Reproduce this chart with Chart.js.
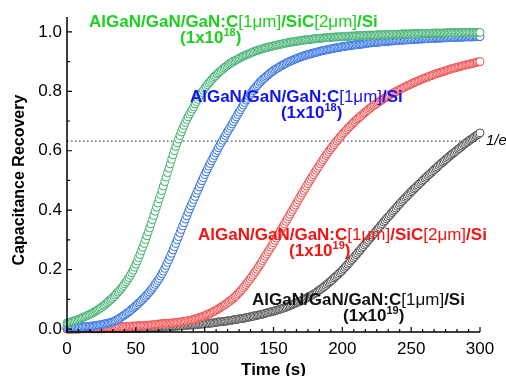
<!DOCTYPE html>
<html>
<head>
<meta charset="utf-8">
<script src="https://cdn.jsdelivr.net/npm/chart.js@4.4.0/dist/chart.umd.min.js"></script>
<style>
    html, body { margin: 0; padding: 0; background: #fff; }
    #wrap { width: 506px; height: 376px; }
</style>
</head>
<body>
<div id="wrap"><canvas id="recoveryChart" width="506" height="376"></canvas></div>
<script>
// temps (s)
const times = [
    0, 1, 2, 3, 4, 5, 6, 7, 8, 9, 10, 11, 12, 13, 14, 15, 16, 17, 18, 19,
    20, 21, 22, 23, 24, 25, 26, 27, 28, 29, 30, 31, 32, 33, 34, 35, 36, 37, 38, 39,
    40, 41, 42, 43, 44, 45, 46, 47, 48, 49, 50, 51, 52, 53, 54, 55, 56, 57, 58, 59,
    60, 61, 62, 63, 64, 65, 66, 67, 68, 69, 70, 71, 72, 73, 74, 75, 76, 77, 78, 79,
    80, 81, 82, 83, 84, 85, 86, 87, 88, 89, 90, 91, 92, 93, 94, 95, 96, 97, 98, 99,
    100, 101, 102, 103, 104, 105, 106, 107, 108, 109, 110, 111, 112, 113, 114, 115, 116, 117, 118, 119,
    120, 121, 122, 123, 124, 125, 126, 127, 128, 129, 130, 131, 132, 133, 134, 135, 136, 137, 138, 139,
    140, 141, 142, 143, 144, 145, 146, 147, 148, 149, 150, 151, 152, 153, 154, 155, 156, 157, 158, 159,
    160, 161, 162, 163, 164, 165, 166, 167, 168, 169, 170, 171, 172, 173, 174, 175, 176, 177, 178, 179,
    180, 181, 182, 183, 184, 185, 186, 187, 188, 189, 190, 191, 192, 193, 194, 195, 196, 197, 198, 199,
    200, 201, 202, 203, 204, 205, 206, 207, 208, 209, 210, 211, 212, 213, 214, 215, 216, 217, 218, 219,
    220, 221, 222, 223, 224, 225, 226, 227, 228, 229, 230, 231, 232, 233, 234, 235, 236, 237, 238, 239,
    240, 241, 242, 243, 244, 245, 246, 247, 248, 249, 250, 251, 252, 253, 254, 255, 256, 257, 258, 259,
    260, 261, 262, 263, 264, 265, 266, 267, 268, 269, 270, 271, 272, 273, 274, 275, 276, 277, 278, 279,
    280, 281, 282, 283, 284, 285, 286, 287, 288, 289, 290, 291, 292, 293, 294, 295, 296, 297, 298, 299,
    300
];

// GaN:C[1um]/SiC[2um]/Si, 1x10^18
const recSiC18 = [
    0.020, 0.021, 0.023, 0.024, 0.026, 0.027, 0.029, 0.030, 0.032, 0.034,
    0.036, 0.038, 0.040, 0.042, 0.044, 0.046, 0.048, 0.050, 0.053, 0.055,
    0.058, 0.061, 0.064, 0.067, 0.070, 0.073, 0.077, 0.080, 0.084, 0.088,
    0.092, 0.096, 0.100, 0.104, 0.109, 0.114, 0.119, 0.124, 0.129, 0.134,
    0.140, 0.146, 0.153, 0.159, 0.166, 0.173, 0.181, 0.189, 0.198, 0.208,
    0.218, 0.229, 0.240, 0.251, 0.263, 0.275, 0.288, 0.301, 0.314, 0.327,
    0.340, 0.354, 0.368, 0.382, 0.396, 0.410, 0.424, 0.438, 0.452, 0.466,
    0.481, 0.496, 0.511, 0.526, 0.541, 0.556, 0.571, 0.586, 0.600, 0.614,
    0.627, 0.639, 0.651, 0.663, 0.674, 0.685, 0.695, 0.705, 0.714, 0.723,
    0.731, 0.740, 0.748, 0.757, 0.765, 0.773, 0.781, 0.789, 0.796, 0.803,
    0.810, 0.816, 0.822, 0.828, 0.833, 0.839, 0.844, 0.849, 0.853, 0.858,
    0.862, 0.866, 0.870, 0.874, 0.878, 0.882, 0.885, 0.889, 0.892, 0.895,
    0.898, 0.901, 0.903, 0.906, 0.908, 0.911, 0.913, 0.916, 0.918, 0.920,
    0.922, 0.924, 0.926, 0.928, 0.930, 0.932, 0.934, 0.936, 0.937, 0.939,
    0.940, 0.942, 0.943, 0.945, 0.946, 0.947, 0.948, 0.950, 0.951, 0.952,
    0.953, 0.954, 0.955, 0.956, 0.957, 0.958, 0.959, 0.960, 0.961, 0.962,
    0.963, 0.964, 0.965, 0.966, 0.966, 0.967, 0.968, 0.969, 0.969, 0.970,
    0.971, 0.972, 0.972, 0.973, 0.973, 0.974, 0.974, 0.975, 0.976, 0.976,
    0.977, 0.977, 0.978, 0.978, 0.979, 0.979, 0.979, 0.980, 0.980, 0.981,
    0.981, 0.981, 0.982, 0.982, 0.982, 0.983, 0.983, 0.983, 0.983, 0.984,
    0.984, 0.984, 0.985, 0.985, 0.985, 0.985, 0.986, 0.986, 0.986, 0.986,
    0.987, 0.987, 0.987, 0.987, 0.988, 0.988, 0.988, 0.988, 0.988, 0.989,
    0.989, 0.989, 0.989, 0.989, 0.989, 0.990, 0.990, 0.990, 0.990, 0.990,
    0.990, 0.991, 0.991, 0.991, 0.991, 0.991, 0.991, 0.992, 0.992, 0.992,
    0.992, 0.992, 0.992, 0.993, 0.993, 0.993, 0.993, 0.993, 0.993, 0.993,
    0.993, 0.994, 0.994, 0.994, 0.994, 0.994, 0.994, 0.994, 0.995, 0.995,
    0.995, 0.995, 0.995, 0.995, 0.995, 0.995, 0.996, 0.996, 0.996, 0.996,
    0.996, 0.996, 0.996, 0.996, 0.996, 0.996, 0.997, 0.997, 0.997, 0.997,
    0.997, 0.997, 0.997, 0.997, 0.997, 0.997, 0.997, 0.997, 0.998, 0.998,
    0.998, 0.998, 0.998, 0.998, 0.998, 0.998, 0.998, 0.998, 0.998, 0.998,
    0.998
];

// GaN:C[1um]/Si, 1x10^18
const recSi18 = [
    0.005, 0.005, 0.005, 0.005, 0.006, 0.006, 0.006, 0.006, 0.007, 0.007,
    0.007, 0.007, 0.008, 0.008, 0.009, 0.009, 0.009, 0.010, 0.010, 0.010,
    0.011, 0.012, 0.013, 0.013, 0.014, 0.015, 0.016, 0.017, 0.018, 0.019,
    0.020, 0.021, 0.023, 0.024, 0.026, 0.028, 0.030, 0.033, 0.036, 0.039,
    0.042, 0.045, 0.048, 0.051, 0.055, 0.058, 0.062, 0.066, 0.070, 0.074,
    0.078, 0.082, 0.087, 0.091, 0.096, 0.100, 0.105, 0.110, 0.115, 0.120,
    0.125, 0.131, 0.137, 0.143, 0.150, 0.156, 0.163, 0.170, 0.178, 0.186,
    0.195, 0.204, 0.214, 0.224, 0.234, 0.244, 0.255, 0.266, 0.277, 0.288,
    0.300, 0.311, 0.323, 0.335, 0.347, 0.358, 0.370, 0.381, 0.393, 0.404,
    0.415, 0.425, 0.436, 0.446, 0.457, 0.467, 0.478, 0.488, 0.499, 0.509,
    0.520, 0.529, 0.539, 0.548, 0.557, 0.566, 0.575, 0.584, 0.593, 0.601,
    0.610, 0.618, 0.627, 0.635, 0.643, 0.651, 0.659, 0.667, 0.675, 0.682,
    0.690, 0.698, 0.706, 0.714, 0.722, 0.730, 0.738, 0.746, 0.754, 0.762,
    0.770, 0.776, 0.783, 0.789, 0.796, 0.802, 0.808, 0.813, 0.819, 0.824,
    0.830, 0.834, 0.839, 0.843, 0.847, 0.851, 0.855, 0.859, 0.863, 0.866,
    0.870, 0.873, 0.876, 0.878, 0.881, 0.884, 0.887, 0.889, 0.892, 0.894,
    0.897, 0.899, 0.901, 0.903, 0.905, 0.907, 0.909, 0.911, 0.913, 0.914,
    0.916, 0.918, 0.919, 0.921, 0.922, 0.924, 0.925, 0.926, 0.927, 0.929,
    0.930, 0.931, 0.932, 0.934, 0.935, 0.936, 0.937, 0.938, 0.939, 0.940,
    0.941, 0.942, 0.943, 0.944, 0.945, 0.946, 0.947, 0.947, 0.948, 0.949,
    0.950, 0.951, 0.951, 0.952, 0.953, 0.953, 0.954, 0.955, 0.955, 0.956,
    0.957, 0.957, 0.958, 0.958, 0.959, 0.959, 0.960, 0.961, 0.962, 0.962,
    0.963, 0.963, 0.964, 0.964, 0.964, 0.965, 0.965, 0.966, 0.966, 0.967,
    0.967, 0.968, 0.968, 0.968, 0.969, 0.969, 0.969, 0.970, 0.970, 0.970,
    0.971, 0.971, 0.972, 0.972, 0.972, 0.972, 0.973, 0.973, 0.973, 0.974,
    0.974, 0.974, 0.975, 0.975, 0.975, 0.975, 0.976, 0.976, 0.976, 0.976,
    0.977, 0.977, 0.977, 0.977, 0.978, 0.978, 0.978, 0.978, 0.979, 0.979,
    0.979, 0.979, 0.979, 0.980, 0.980, 0.980, 0.980, 0.980, 0.981, 0.981,
    0.981, 0.981, 0.981, 0.981, 0.982, 0.982, 0.982, 0.982, 0.982, 0.983,
    0.983, 0.983, 0.983, 0.983, 0.983, 0.983, 0.984, 0.984, 0.984, 0.984,
    0.984
];

// GaN:C[1um]/SiC[2um]/Si, 1x10^19
const recSiC19 = [
    0.000, 0.000, 0.000, 0.001, 0.001, 0.001, 0.001, 0.001, 0.001, 0.002,
    0.002, 0.002, 0.002, 0.003, 0.003, 0.003, 0.003, 0.003, 0.004, 0.004,
    0.004, 0.004, 0.004, 0.005, 0.005, 0.005, 0.005, 0.005, 0.006, 0.006,
    0.006, 0.006, 0.006, 0.007, 0.007, 0.007, 0.007, 0.007, 0.008, 0.008,
    0.008, 0.008, 0.008, 0.009, 0.009, 0.009, 0.009, 0.010, 0.010, 0.010,
    0.010, 0.011, 0.011, 0.011, 0.011, 0.012, 0.012, 0.012, 0.012, 0.013,
    0.013, 0.014, 0.014, 0.015, 0.015, 0.016, 0.016, 0.017, 0.017, 0.018,
    0.018, 0.019, 0.019, 0.019, 0.019, 0.020, 0.020, 0.021, 0.021, 0.022,
    0.022, 0.023, 0.023, 0.024, 0.025, 0.026, 0.026, 0.027, 0.028, 0.029,
    0.030, 0.031, 0.033, 0.034, 0.035, 0.037, 0.038, 0.040, 0.041, 0.043,
    0.045, 0.047, 0.049, 0.051, 0.053, 0.055, 0.058, 0.060, 0.063, 0.065,
    0.068, 0.071, 0.074, 0.077, 0.080, 0.083, 0.086, 0.090, 0.093, 0.097,
    0.100, 0.104, 0.109, 0.113, 0.118, 0.123, 0.128, 0.133, 0.139, 0.144,
    0.150, 0.156, 0.162, 0.168, 0.175, 0.181, 0.188, 0.194, 0.201, 0.208,
    0.215, 0.222, 0.230, 0.237, 0.245, 0.252, 0.260, 0.267, 0.275, 0.282,
    0.290, 0.298, 0.306, 0.314, 0.322, 0.330, 0.338, 0.346, 0.354, 0.362,
    0.370, 0.378, 0.386, 0.394, 0.402, 0.410, 0.418, 0.426, 0.434, 0.442,
    0.450, 0.458, 0.466, 0.473, 0.481, 0.489, 0.497, 0.504, 0.512, 0.519,
    0.527, 0.534, 0.541, 0.548, 0.556, 0.563, 0.570, 0.577, 0.584, 0.590,
    0.597, 0.603, 0.609, 0.615, 0.621, 0.627, 0.633, 0.638, 0.644, 0.649,
    0.655, 0.660, 0.665, 0.670, 0.675, 0.680, 0.685, 0.689, 0.694, 0.698,
    0.703, 0.707, 0.711, 0.715, 0.719, 0.723, 0.727, 0.731, 0.735, 0.739,
    0.743, 0.746, 0.750, 0.753, 0.756, 0.759, 0.763, 0.766, 0.769, 0.772,
    0.775, 0.778, 0.781, 0.783, 0.786, 0.789, 0.792, 0.794, 0.797, 0.799,
    0.802, 0.804, 0.807, 0.809, 0.811, 0.813, 0.816, 0.818, 0.820, 0.822,
    0.825, 0.827, 0.829, 0.831, 0.833, 0.835, 0.837, 0.839, 0.841, 0.843,
    0.845, 0.846, 0.848, 0.850, 0.852, 0.853, 0.855, 0.857, 0.859, 0.860,
    0.862, 0.863, 0.865, 0.866, 0.868, 0.869, 0.871, 0.872, 0.874, 0.875,
    0.877, 0.878, 0.879, 0.880, 0.882, 0.883, 0.884, 0.885, 0.887, 0.888,
    0.889, 0.890, 0.891, 0.892, 0.893, 0.894, 0.896, 0.897, 0.898, 0.899,
    0.900
];

// GaN:C[1um]/Si, 1x10^19
const recSi19 = [
    0.000, 0.000, 0.000, 0.000, 0.000, 0.000, 0.000, 0.000, 0.000, 0.000,
    0.001, 0.001, 0.001, 0.001, 0.001, 0.001, 0.001, 0.001, 0.001, 0.001,
    0.001, 0.001, 0.001, 0.001, 0.001, 0.001, 0.001, 0.001, 0.002, 0.002,
    0.002, 0.002, 0.002, 0.002, 0.002, 0.002, 0.002, 0.002, 0.002, 0.002,
    0.002, 0.002, 0.002, 0.002, 0.003, 0.003, 0.003, 0.003, 0.003, 0.003,
    0.003, 0.003, 0.003, 0.003, 0.004, 0.004, 0.004, 0.004, 0.004, 0.004,
    0.005, 0.005, 0.005, 0.005, 0.005, 0.005, 0.006, 0.006, 0.006, 0.006,
    0.007, 0.007, 0.007, 0.007, 0.008, 0.008, 0.009, 0.009, 0.009, 0.009,
    0.010, 0.010, 0.011, 0.011, 0.011, 0.011, 0.012, 0.012, 0.013, 0.013,
    0.014, 0.014, 0.014, 0.014, 0.015, 0.015, 0.016, 0.016, 0.017, 0.017,
    0.018, 0.018, 0.019, 0.019, 0.020, 0.020, 0.021, 0.021, 0.022, 0.023,
    0.024, 0.024, 0.025, 0.025, 0.026, 0.026, 0.027, 0.028, 0.029, 0.029,
    0.030, 0.031, 0.032, 0.032, 0.033, 0.034, 0.035, 0.035, 0.036, 0.037,
    0.038, 0.039, 0.040, 0.041, 0.042, 0.043, 0.044, 0.045, 0.046, 0.047,
    0.048, 0.049, 0.050, 0.051, 0.053, 0.054, 0.055, 0.056, 0.058, 0.059,
    0.060, 0.061, 0.063, 0.064, 0.066, 0.067, 0.069, 0.070, 0.072, 0.073,
    0.075, 0.077, 0.079, 0.081, 0.083, 0.085, 0.087, 0.089, 0.091, 0.093,
    0.095, 0.097, 0.100, 0.102, 0.105, 0.107, 0.110, 0.112, 0.115, 0.117,
    0.120, 0.123, 0.127, 0.130, 0.133, 0.136, 0.140, 0.143, 0.147, 0.151,
    0.155, 0.159, 0.163, 0.167, 0.172, 0.176, 0.180, 0.184, 0.189, 0.193,
    0.198, 0.203, 0.208, 0.213, 0.218, 0.223, 0.229, 0.234, 0.239, 0.244,
    0.250, 0.255, 0.261, 0.266, 0.272, 0.277, 0.283, 0.288, 0.294, 0.299,
    0.305, 0.310, 0.316, 0.321, 0.327, 0.332, 0.338, 0.343, 0.349, 0.354,
    0.360, 0.365, 0.371, 0.376, 0.381, 0.386, 0.392, 0.397, 0.402, 0.407,
    0.413, 0.418, 0.423, 0.428, 0.433, 0.438, 0.443, 0.447, 0.452, 0.457,
    0.462, 0.466, 0.471, 0.475, 0.480, 0.484, 0.489, 0.493, 0.498, 0.502,
    0.507, 0.511, 0.516, 0.520, 0.524, 0.528, 0.533, 0.537, 0.541, 0.545,
    0.550, 0.554, 0.558, 0.562, 0.566, 0.570, 0.574, 0.578, 0.582, 0.586,
    0.590, 0.593, 0.597, 0.601, 0.605, 0.608, 0.612, 0.616, 0.620, 0.623,
    0.627, 0.630, 0.634, 0.637, 0.640, 0.643, 0.647, 0.650, 0.653, 0.656,
    0.660
];

const xTicks = [0, 50, 100, 150, 200, 250, 300];
const yTicks = [0.0, 0.2, 0.4, 0.6, 0.8, 1.0];
const invE = 0.632; // 1/e

// étiquettes : [texte, style]
const labelSiC = [['AlGaN/GaN/GaN:C', 'b'], ['[1\u03bcm]', 'r'], ['/SiC', 'b'], ['[2\u03bcm]', 'r'], ['/Si', 'b']];
const labelSi = [['AlGaN/GaN/GaN:C', 'b'], ['[1\u03bcm]', 'r'], ['/Si', 'b']];
const dose18 = [['(1x10', 'b'], ['18', 'sup'], [')', 'b']];
const dose19 = [['(1x10', 'b'], ['19', 'sup'], [')', 'b']];

const annotations = [
    { x: 16.0, y: 1.017, line1: labelSiC, line2: dose18, color: '#1fcf1f' },
    { x: 89.3, y: 0.765, line1: labelSi, line2: dose18, color: '#1414f0' },
    { x: 95.2, y: 0.300, line1: labelSiC, line2: dose19, color: '#f51414' },
    { x: 134.4, y: 0.081, line1: labelSi, line2: dose19, color: '#111111' }
];

const FONT = '"Liberation Sans", Arial, sans-serif';
const styles = {
    b: { font: 'bold 17px ' + FONT, dy: 0 },
    r: { font: '17px ' + FONT, dy: 0 },
    sup: { font: 'bold 11px ' + FONT, dy: -7 }
};

function toPoints(values) {
    return times.map((t, i) => ({ x: t, y: values[i] }));
}

function drawRich(ctx, x, y, parts) {
    parts.forEach(p => {
        const st = styles[p[1]];
        ctx.font = st.font;
        ctx.fillText(p[0], x, y + st.dy);
        x += ctx.measureText(p[0]).width;
    });
}

// axes, graduations et textes
const decorPlugin = {
    id: 'decor',
    afterDraw(chart) {
        const ctx = chart.ctx;
        const xs = chart.scales.x, ys = chart.scales.y;
        const area = chart.chartArea;
        ctx.save();

        // axes
        ctx.strokeStyle = '#000';
        ctx.lineWidth = 1.5;
        ctx.beginPath();
        ctx.moveTo(area.left, area.top);
        ctx.lineTo(area.left, area.bottom);
        ctx.lineTo(area.right, area.bottom);
        ctx.stroke();

        ctx.lineWidth = 1.2;
        ctx.beginPath();
        for (let i = 0; i <= 36; i++) {
            const px = xs.getPixelForValue(i * 50 / 6);
            const len = i % 6 === 0 ? 5 : 3;
            ctx.moveTo(px, area.bottom);
            ctx.lineTo(px, area.bottom - len);
        }
        for (let i = 0; i <= 10; i++) {
            const py = ys.getPixelForValue(i / 10);
            const len = i % 2 === 0 ? 5 : 3;
            ctx.moveTo(area.left, py);
            ctx.lineTo(area.left + len, py);
        }
        ctx.stroke();

        // titres des axes
        ctx.fillStyle = '#000';
        ctx.textAlign = 'center';
        ctx.textBaseline = 'alphabetic';
        ctx.font = 'bold 17px ' + FONT;
        ctx.fillText('Time (s)', (area.left + area.right) / 2, 375);
        ctx.save();
        ctx.translate(24, 180);
        ctx.rotate(-Math.PI / 2);
        ctx.font = 'bold 16px ' + FONT;
        ctx.fillText('Capacitance Recovery', 0, 0);
        ctx.restore();

        // 1/e
        ctx.textAlign = 'left';
        ctx.textBaseline = 'middle';
        ctx.font = 'italic 15px ' + FONT;
        ctx.fillText('1/e', area.right + 6, ys.getPixelForValue(invE));

        // étiquettes des courbes
        ctx.textBaseline = 'alphabetic';
        annotations.forEach(a => {
            const px = xs.getPixelForValue(a.x);
            const py = ys.getPixelForValue(a.y);
            ctx.fillStyle = a.color;
            drawRich(ctx, px, py, a.line1);
            drawRich(ctx, px + 91, py + 16, a.line2);
        });
        ctx.restore();
    }
};

function series(values, color, order) {
    return {
        data: toPoints(values),
        borderColor: color,
        backgroundColor: '#fff',
        pointBackgroundColor: '#fff',
        pointBorderColor: color,
        pointBorderWidth: 1,
        pointRadius: 4,
        showLine: false,
        clip: false,
        order: order
    };
}

document.addEventListener('DOMContentLoaded', function() {
    const ctx = document.getElementById('recoveryChart').getContext('2d');
    new Chart(ctx, {
        type: 'scatter',
        data: {
            datasets: [
                series(recSiC18, '#3cae6c', 1),
                series(recSi18, '#2f6fe4', 2),
                series(recSiC19, '#f04a4a', 3),
                series(recSi19, '#505050', 4),
                {
                    type: 'line',
                    data: [{ x: 0, y: invE }, { x: 300, y: invE }],
                    borderColor: '#555',
                    borderWidth: 1.2,
                    borderDash: [1.5, 2.5],
                    pointRadius: 0,
                    order: 5
                }
            ]
        },
        options: {
            responsive: false,
            animation: false,
            devicePixelRatio: 1,
            layout: { padding: { top: 17, right: 26, left: 0, bottom: 0 } },
            plugins: {
                legend: { display: false },
                tooltip: { enabled: false }
            },
            scales: {
                x: {
                    type: 'linear',
                    min: 0,
                    max: 300,
                    afterBuildTicks: s => { s.ticks = xTicks.map(v => ({ value: v })); },
                    afterFit: s => { s.height = 44; },
                    grid: { display: false, drawTicks: false },
                    border: { display: false },
                    ticks: {
                        autoSkip: false,
                        maxRotation: 0,
                        padding: 7,
                        color: '#000',
                        font: { family: FONT, size: 17 }
                    }
                },
                y: {
                    type: 'linear',
                    min: -0.01,
                    max: 1.05,
                    afterBuildTicks: s => { s.ticks = yTicks.map(v => ({ value: v })); },
                    afterFit: s => { s.width = 67; },
                    grid: { display: false, drawTicks: false },
                    border: { display: false },
                    ticks: {
                        padding: 5,
                        color: '#000',
                        font: { family: FONT, size: 17 },
                        callback: v => v.toFixed(1)
                    }
                }
            }
        },
        plugins: [decorPlugin]
    });
});
</script>
</body>
</html>
